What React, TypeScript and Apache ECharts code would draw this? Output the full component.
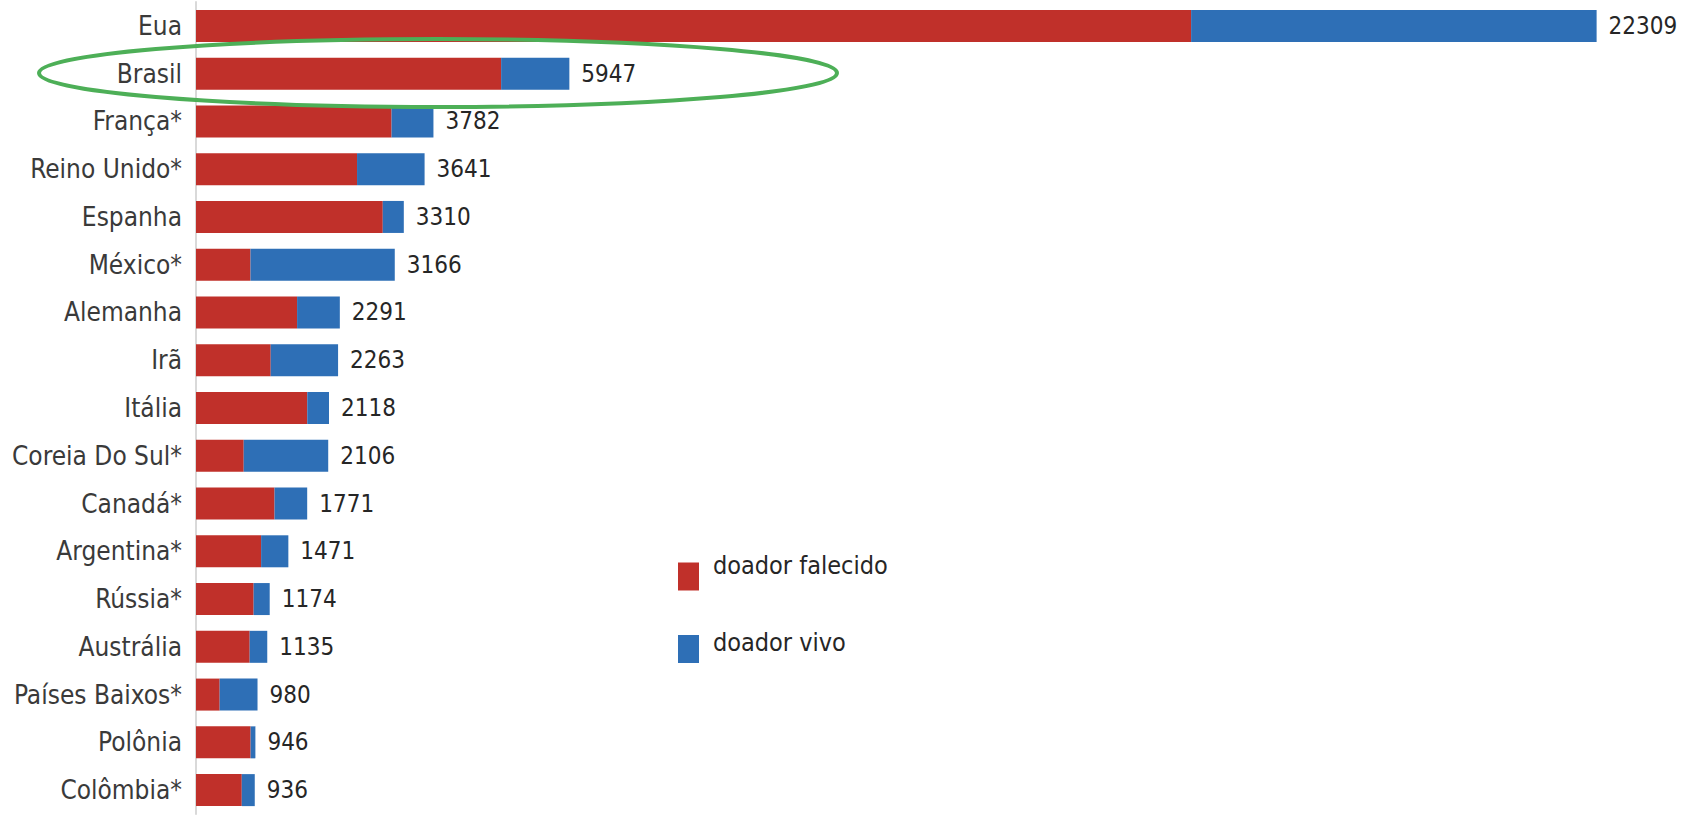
import React, { useEffect, useRef } from "react";
import * as echarts from "echarts";

const countries = [
  "Eua", "Brasil", "França*", "Reino Unido*", "Espanha", "México*", "Alemanha", "Irã",
  "Itália", "Coreia Do Sul*", "Canadá*", "Argentina*", "Rússia*", "Austrália",
  "Países Baixos*", "Polônia", "Colômbia*",
];
const deceased = [15850, 4860, 3115, 2565, 2975, 868, 1610, 1190, 1772, 760, 1251, 1037, 918, 855, 377, 870, 729];
const living = [6459, 1087, 667, 1076, 335, 2298, 681, 1073, 346, 1346, 520, 434, 256, 280, 603, 76, 207];
const totals = [22309, 5947, 3782, 3641, 3310, 3166, 2291, 2263, 2118, 2106, 1771, 1471, 1174, 1135, 980, 946, 936];
const seriesNames = ["doador falecido", "doador vivo"];

const FONT = "'Liberation Sans Narrow', 'DejaVu Sans Condensed', 'Roboto', sans-serif";

export default function App() {
  const ref = useRef<HTMLDivElement>(null);
  useEffect(() => {
    if (!ref.current) return;
    const chart = echarts.init(ref.current, null, { renderer: "svg" });
    chart.setOption({
      animation: false,
      backgroundColor: "#ffffff",
      grid: {
        left: 196,
        right: 43,
        top: 2,
        bottom: 4,
        containLabel: false,
        outerBoundsMode: "none",
      },
      xAxis: {
        type: "value",
        min: 0,
        max: 23000,
        show: false,
      },
      yAxis: {
        type: "category",
        data: countries,
        inverse: true,
        offset: 2,
        axisLine: { show: true, lineStyle: { color: "#d9d9d9", width: 2 } },
        axisTick: { show: false },
        axisLabel: {
          margin: 12,
          color: "#3a3a3a",
          fontFamily: FONT,
          fontSize: 26,
        },
      },
      legend: {
        orient: "vertical",
        left: 678,
        top: 553,
        padding: 0,
        itemWidth: 21,
        itemHeight: 28,
        itemGap: 39,
        icon: "rect",
        data: seriesNames,
        formatter: (name: string) =>
          name === seriesNames[0] ? `{a|${name}}` : `{b|${name}}`,
        textStyle: {
          fontFamily: FONT,
          fontSize: 25,
          color: "#262626",
          padding: [0, 0, 0, 9],
          rich: {
            a: { fontFamily: FONT, fontSize: 25, color: "#262626", padding: [0, 0, 22, 0] },
            b: { fontFamily: FONT, fontSize: 25, color: "#262626", padding: [0, 0, 14, 0] },
          },
        },
      },
      series: [
        {
          name: seriesNames[0],
          type: "bar",
          stack: "total",
          barWidth: 32,
          data: deceased,
          itemStyle: { color: "#C0302A" },
        },
        {
          name: seriesNames[1],
          type: "bar",
          stack: "total",
          barWidth: 32,
          data: living,
          itemStyle: { color: "#2E6FB6" },
          label: {
            show: true,
            position: "right",
            distance: 12,
            fontFamily: FONT,
            fontSize: 24,
            color: "#262626",
            formatter: (p: any) => String(totals[p.dataIndex]),
          },
        },
      ],
      graphic: [
        {
          type: "ellipse",
          z: 100,
          shape: { cx: 438, cy: 73, rx: 399, ry: 34 },
          style: { fill: "none", stroke: "#4DAF57", lineWidth: 4 },
        },
      ],
    });
    return () => chart.dispose();
  }, []);
  return (
    <div
      ref={ref}
      style={{ position: "absolute", left: 0, top: 0, width: 1683, height: 818 }}
    />
  );
}
